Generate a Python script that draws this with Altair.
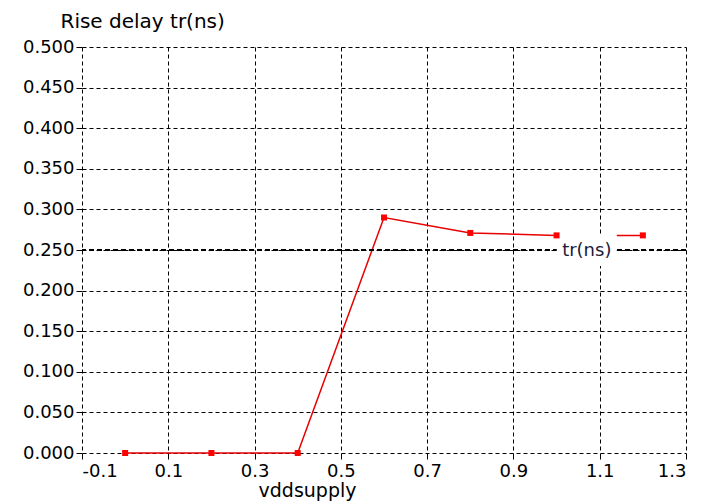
import altair as alt
import pandas as pd

# ---- data ----
vdd = [0.0, 0.2, 0.4, 0.6, 0.8, 1.0, 1.2]
tr_ns = [0.0, 0.0, 0.0, 0.290, 0.271, 0.268, 0.268]
x_ticks = [-0.1, 0.1, 0.3, 0.5, 0.7, 0.9, 1.1, 1.3]
y_ticks = [0.0, 0.05, 0.10, 0.15, 0.20, 0.25, 0.30, 0.35, 0.40, 0.45, 0.50]
ref_level = [0.25]
label_text = ["tr(ns)"]
label_x = [1.07]
label_y = [0.25]

FONT = "DejaVu Sans"

df = pd.DataFrame({"vdd": vdd, "tr": tr_ns})
ref_df = pd.DataFrame({"y": ref_level})
lab_df = pd.DataFrame({"x": label_x, "y": label_y, "t": label_text})

x_enc = alt.X(
    "vdd:Q",
    scale=alt.Scale(domain=[x_ticks[0], x_ticks[-1]], nice=False, zero=False),
    axis=alt.Axis(
        values=x_ticks,
        title="vddsupply",
        labelExpr="(datum.value < 0 ? '-' : '') + format(abs(datum.value), '.1f')",
        titleX=225,
        titleY=43,
        titleAnchor="start",
        titleAlign="center",
        titleBaseline="alphabetic",
        titleFontSize=19,
        labelPadding=3,
    ),
)
y_enc = alt.Y(
    "tr:Q",
    scale=alt.Scale(domain=[y_ticks[0], y_ticks[-1]], nice=False),
    axis=alt.Axis(
        values=y_ticks,
        format=".3f",
        title="Rise delay tr(ns)",
        titleAngle=0,
        titleX=-22,
        titleY=-20,
        titleAlign="left",
        titleAnchor="start",
        titleBaseline="alphabetic",
        titleFontSize=20,
        labelPadding=2,
    ),
)

line = alt.Chart(df).mark_line(color="#e80000", strokeWidth=1.5).encode(x=x_enc, y=y_enc)
pts = alt.Chart(df).mark_square(color="#ff0000", size=36, opacity=1).encode(x=x_enc, y=y_enc)

rule = alt.Chart(ref_df).mark_rule(color="black", strokeWidth=2, strokeDash=[5, 3]).encode(
    y=alt.Y("y:Q", scale=alt.Scale(domain=[y_ticks[0], y_ticks[-1]], nice=False))
)

box = alt.Chart(lab_df).mark_rect(color="white", width=60, height=32, opacity=1).encode(
    x=alt.X("x:Q"), y=alt.Y("y:Q")
)
txt = alt.Chart(lab_df).mark_text(
    font=FONT, fontSize=18, color="#1a1a3a", align="center", baseline="middle", dy=1
).encode(x=alt.X("x:Q"), y=alt.Y("y:Q"), text="t:N")

chart = (
    alt.layer(line, rule, box, txt, pts)
    .properties(
        width=604,
        height=406,
        autosize=alt.AutoSizeParams(type="none"),
        padding={"left": 82, "top": 47, "right": 38, "bottom": 51},
        background="white",
    )
    .configure_view(stroke=None)
    .configure_axis(
        domain=False,
        grid=True,
        gridColor="black",
        gridDash=[4, 3],
        gridWidth=1,
        gridOpacity=1,
        ticks=True,
        tickColor="black",
        tickSize=6,
        tickWidth=1,
        labelFont=FONT,
        labelFontSize=18,
        labelColor="black",
        titleFont=FONT,
        titleFontSize=17,
        titleFontWeight="normal",
        titleColor="black",
    )
)

chart.save("out.html", embed_options={"renderer": "svg", "actions": False})
